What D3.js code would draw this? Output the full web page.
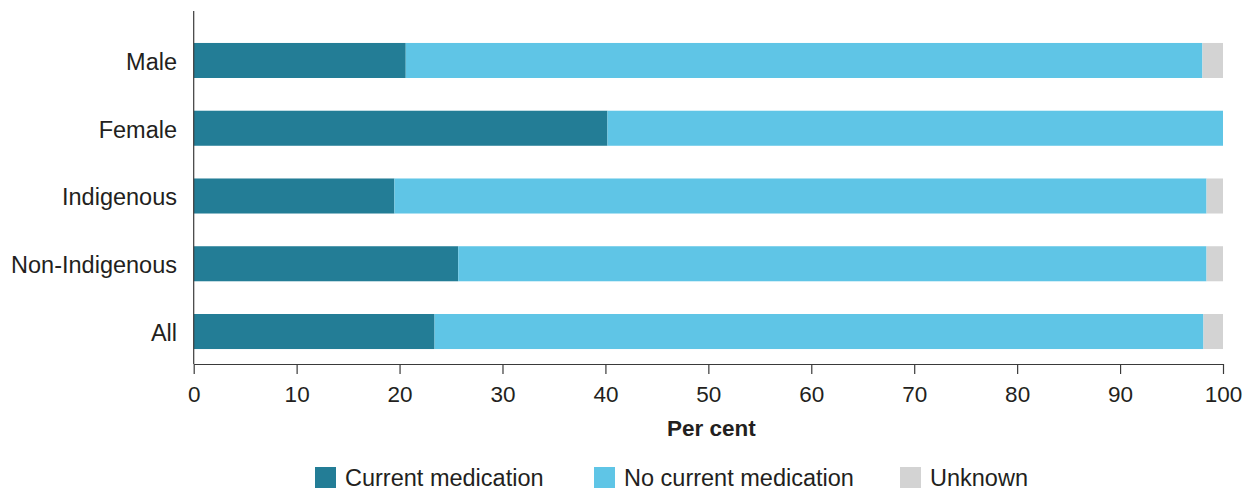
<!DOCTYPE html>
<html>
<head>
<meta charset="utf-8">
<script src="https://cdn.jsdelivr.net/npm/d3@7"></script>
<style>
  html, body { margin: 0; padding: 0; background: #fff; }
  svg { display: block; font-family: "Liberation Sans", Arial, sans-serif; }
</style>
</head>
<body>
<svg id="chart" width="1247" height="491"></svg>
<script>
const categories = ["Male", "Female", "Indigenous", "Non-Indigenous", "All"];
const seriesNames = ["Current medication", "No current medication", "Unknown"];
const currentMedication = [20.6, 40.2, 19.5, 25.7, 23.4];
const noCurrentMedication = [77.4, 59.8, 78.9, 72.7, 74.7];
const unknown = [2.0, 0.0, 1.6, 1.6, 1.9];
const xTicks = [0, 10, 20, 30, 40, 50, 60, 70, 80, 90, 100];
const colors = ["#237d96", "#5fc5e6", "#d3d3d3"];

const rows = categories.map((c, i) => ({
  category: c,
  "Current medication": currentMedication[i],
  "No current medication": noCurrentMedication[i],
  "Unknown": unknown[i]
}));

const svg = d3.select("#chart");
const textColor = "#231f20";
const axisColor = "#3a3a3a";

const x = d3.scaleLinear().domain([0, 100]).range([193.7, 1223]);
const y = d3.scaleBand().domain(categories).range([26.6, 365.4])
  .paddingInner(0.483).paddingOuter(0.2415);
const color = d3.scaleOrdinal().domain(seriesNames).range(colors);

const stacked = d3.stack().keys(seriesNames)(rows);

svg.append("g").selectAll("g")
  .data(stacked).join("g")
  .attr("fill", d => color(d.key))
  .selectAll("rect")
  .data(d => d).join("rect")
  .attr("x", d => x(d[0]))
  .attr("y", d => y(d.data.category))
  .attr("width", d => Math.max(0, x(d[1]) - x(d[0])))
  .attr("height", y.bandwidth());

// X axis
const xAxis = svg.append("g")
  .attr("transform", "translate(0,364)")
  .call(d3.axisBottom(x).tickValues(xTicks).tickSize(10).tickPadding(12).tickSizeOuter(0));
xAxis.select(".domain").attr("stroke", axisColor).attr("stroke-width", 1.2);
xAxis.selectAll(".tick line").attr("stroke", axisColor).attr("stroke-width", 1.2);
xAxis.selectAll(".tick text")
  .attr("fill", textColor)
  .style("font-size", "22.5px")
  .style("font-family", "'Liberation Sans', Arial, sans-serif");

// Y axis line
svg.append("line")
  .attr("x1", 193.7).attr("x2", 193.7)
  .attr("y1", 11).attr("y2", 364)
  .attr("stroke", axisColor).attr("stroke-width", 1.2);

// Category labels
svg.append("g").selectAll("text")
  .data(categories).join("text")
  .attr("x", 177)
  .attr("y", d => y(d) + y.bandwidth() / 2)
  .attr("dy", "0.4em")
  .attr("text-anchor", "end")
  .attr("fill", textColor)
  .style("font-size", "23.5px")
  .text(d => d);

// Axis title
svg.append("text")
  .attr("x", x(50) + 3)
  .attr("y", 436)
  .attr("text-anchor", "middle")
  .attr("fill", textColor)
  .style("font-size", "22.5px")
  .style("font-weight", "bold")
  .text("Per cent");

// Legend
const legendX = [315, 594, 900];
const legend = svg.append("g").selectAll("g")
  .data(seriesNames).join("g")
  .attr("transform", (d, i) => `translate(${legendX[i]},467)`);
legend.append("rect")
  .attr("width", 21).attr("height", 21)
  .attr("fill", d => color(d));
legend.append("text")
  .attr("x", 30)
  .attr("y", 10.5)
  .attr("dy", "0.38em")
  .attr("fill", textColor)
  .style("font-size", "23.5px")
  .text(d => d);
</script>
</body>
</html>
